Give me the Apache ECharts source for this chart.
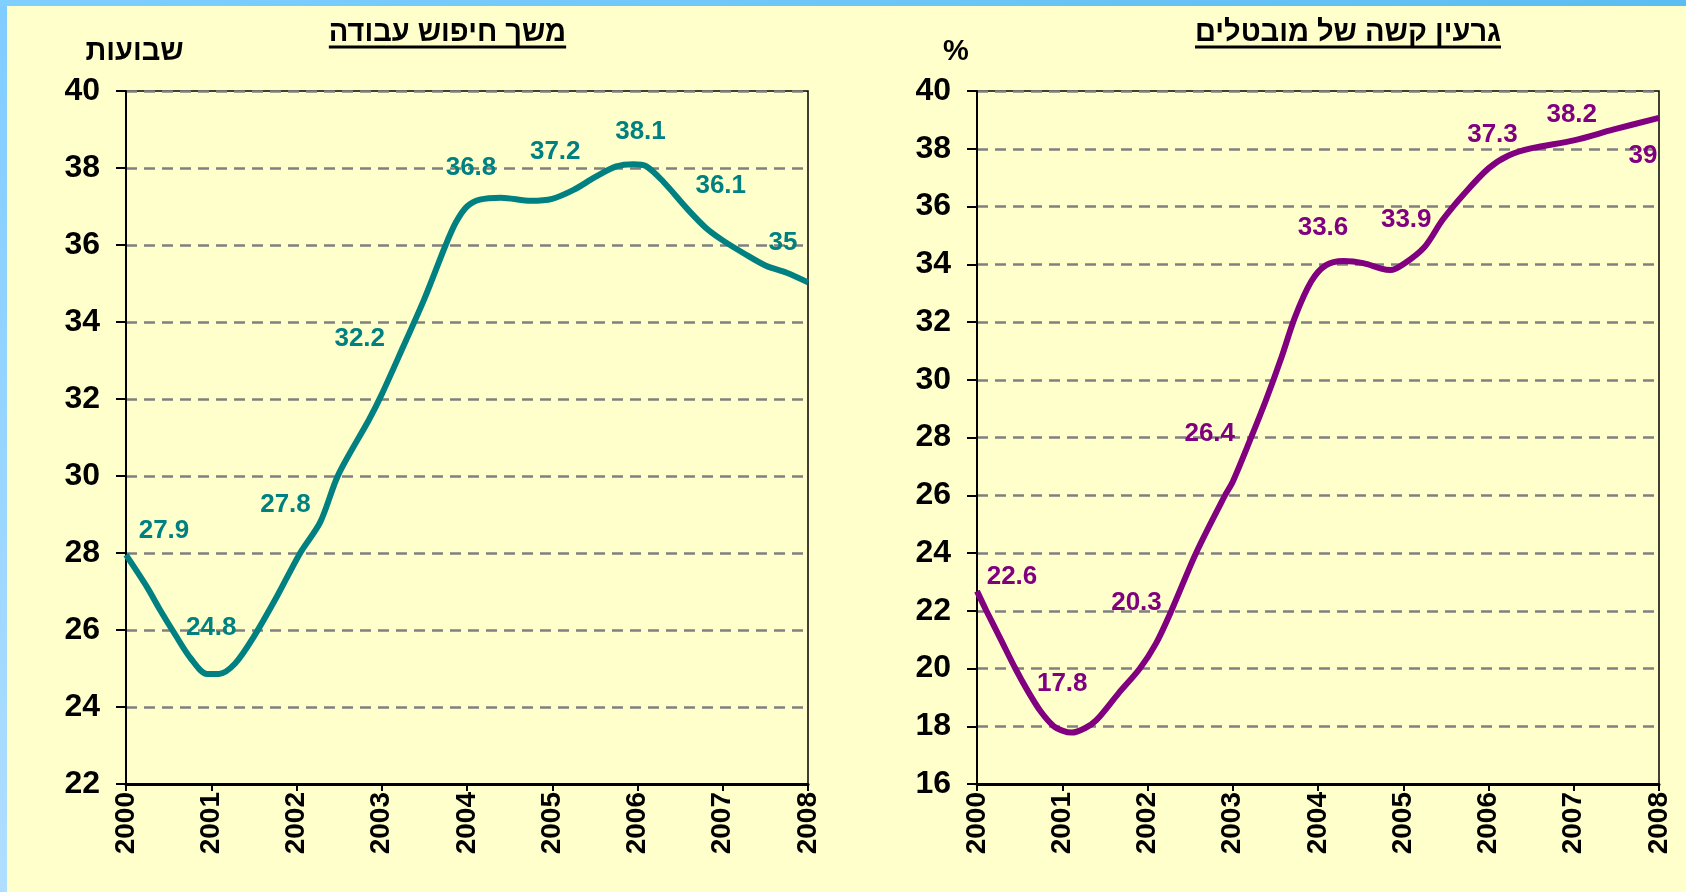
<!DOCTYPE html>
<html>
<head>
<meta charset="utf-8">
<script src="https://cdn.jsdelivr.net/npm/echarts@6/dist/echarts.min.js"></script>
<style>
html,body{margin:0;padding:0;background:#FFFFCC;}
#chart{width:1686px;height:892px;}
</style>
</head>
<body>
<div id="chart"></div>
<script>
// ---------- Data ----------
const leftTitle = 'משך חיפוש עבודה';
const leftUnit = 'שבועות';
const rightTitle = 'גרעין קשה של מובטלים';
const rightUnit = '%';

const yearTicks = [2000, 2001, 2002, 2003, 2004, 2005, 2006, 2007, 2008];

// curve (left: job search duration, weeks)
const leftCurveX = [2000.0, 2000.245, 2000.40, 2000.58, 2000.76, 2000.95, 2001.09, 2001.28, 2001.50, 2001.77,
  2002.04, 2002.28, 2002.49, 2002.85, 2003.0, 2003.25, 2003.5, 2003.75, 2003.87, 2004.0,
  2004.15, 2004.4, 2004.75, 2005.0, 2005.25, 2005.5, 2005.75, 2005.95, 2006.1, 2006.3,
  2006.6, 2006.8, 2007.0, 2007.25, 2007.5, 2007.75, 2008.0];
const leftCurveY = [27.95, 27.12, 26.52, 25.87, 25.26, 24.86, 24.86, 25.13, 25.83, 26.87,
  27.99, 28.81, 30.03, 31.46, 32.12, 33.35, 34.6, 36.0, 36.59, 37.0,
  37.18, 37.23, 37.15, 37.2, 37.43, 37.76, 38.04, 38.1, 38.05, 37.65,
  36.9, 36.45, 36.12, 35.78, 35.47, 35.28, 35.03];
const leftLabels = [27.9, 24.8, 27.8, 32.2, 36.8, 37.2, 38.1, 36.1, 35];

// curve (right: hard core of unemployed, %)
const rightCurveX = [2000.0, 2000.11, 2000.28, 2000.45, 2000.6, 2000.75, 2000.9, 2001.0, 2001.11, 2001.27,
  2001.40, 2001.66, 2001.91, 2002.1, 2002.28, 2002.57, 2002.91, 2003.0, 2003.2, 2003.39,
  2003.57, 2003.73, 2003.92, 2004.09, 2004.3, 2004.53, 2004.74, 2004.85, 2005.0, 2005.25,
  2005.46, 2005.72, 2006.0, 2006.23, 2006.51, 2007.0, 2007.46, 2008.0];
const rightCurveY = [22.68, 22.0, 21.0, 20.0, 19.2, 18.5, 18.0, 17.85, 17.78, 17.94,
  18.21, 19.14, 20.0, 20.87, 22.0, 24.0, 26.0, 26.47, 27.89, 29.3,
  30.76, 32.17, 33.4, 33.96, 34.11, 34.04, 33.85, 33.8, 34.0, 34.6,
  35.53, 36.46, 37.32, 37.76, 38.02, 38.29, 38.66, 39.07];
const rightLabels = [22.6, 17.8, 20.3, 26.4, 33.6, 33.9, 37.3, 38.2, 39];

// ---------- Styling ----------
const leftColor = '#008080';
const rightColor = '#800080';
const leftLabelOffsets = [[38,-26],[0,-48],[-11,-56],[-22,-52],[4,-46],[3,-47],[3,-32],[-2,-55],[-25,-41]];
const rightLabelOffsets = [[35,-17],[0,-48],[-11,-57],[-23,-50],[5,-48],[3,-47],[4,-34],[-2,-28],[-16,36]];

const FONT = '"Liberation Sans", Arial, sans-serif';

function measure(text, font) {
  const c = document.createElement('canvas').getContext('2d');
  c.font = font;
  return c.measureText(text).width;
}

function xAxisCfg(gi) {
  return {
    type: 'value', gridIndex: gi, min: 2000, max: 2008, interval: 1,
    axisLine: {show: true, onZero: false, lineStyle: {color: '#000', width: 3}},
    axisTick: {show: true, length: 7, lineStyle: {color: '#000', width: 2}},
    axisLabel: {rotate: 90, margin: 8, fontSize: 28, fontWeight: 'bold', color: '#000',
      fontFamily: FONT, formatter: v => String(v)},
    splitLine: {show: false}
  };
}
function yAxisCfg(gi, min) {
  return {
    type: 'value', gridIndex: gi, min: min, max: 40, interval: 2,
    axisLine: {show: true, lineStyle: {color: '#000', width: 2}},
    axisTick: {show: true, length: 10, lineStyle: {color: '#000', width: 2}},
    axisLabel: {margin: 26, fontSize: 32, fontWeight: 'bold', color: '#000', fontFamily: FONT},
    splitLine: {show: true, lineStyle: {color: '#808080', width: 2.5, type: [11, 7]}}
  };
}
function curveSeries(gi, xs, ys, color) {
  return {
    type: 'line', xAxisIndex: gi, yAxisIndex: gi, smooth: 0.3, symbol: 'none',
    lineStyle: {color: color, width: 6}, z: 3,
    data: xs.map((x, i) => [x, ys[i]])
  };
}
function labelSeries(gi, labels, offsets, color) {
  return {
    type: 'scatter', xAxisIndex: gi, yAxisIndex: gi, symbolSize: 1,
    itemStyle: {color: 'rgba(0,0,0,0)'}, z: 4, silent: true,
    data: yearTicks.map((y, i) => ({
      value: [y, labels[i]],
      label: {offset: offsets[i]}
    })),
    label: {show: true, position: 'inside', color: color, fontSize: 26, fontWeight: 'bold',
      fontFamily: FONT, textBorderWidth: 0, textBorderColor: 'transparent', opacity: 1,
      formatter: p => String(p.value[1])}
  };
}

const titleFont = 'bold 29px ' + FONT;
const lw = measure(leftTitle, titleFont);
const rw = measure(rightTitle, titleFont);

const chart = echarts.init(document.getElementById('chart'), null, {renderer: 'canvas'});
chart.setOption({
  backgroundColor: '#FFFFCC',
  animation: false,
  grid: [
    {left: 126, top: 91, width: 682, height: 693, show: true, borderColor: '#000', borderWidth: 1.5, backgroundColor: 'transparent'},
    {left: 977, top: 91, width: 682, height: 693, show: true, borderColor: '#000', borderWidth: 1.5, backgroundColor: 'transparent'}
  ],
  xAxis: [xAxisCfg(0), xAxisCfg(1)],
  yAxis: [yAxisCfg(0, 22), yAxisCfg(1, 16)],
  series: [
    curveSeries(0, leftCurveX, leftCurveY, leftColor),
    labelSeries(0, leftLabels, leftLabelOffsets, leftColor),
    curveSeries(1, rightCurveX, rightCurveY, rightColor),
    labelSeries(1, rightLabels, rightLabelOffsets, rightColor)
  ],
  graphic: [
    {type: 'rect', left: 0, top: 0, shape: {width: 7, height: 892}, z: 10,
      style: {fill: new echarts.graphic.LinearGradient(0, 0, 0, 1, [{offset: 0, color: '#7FCCFF'}, {offset: 1, color: '#B0DEFF'}])}},
    {type: 'rect', left: 0, top: 0, shape: {width: 1686, height: 6}, z: 10,
      style: {fill: new echarts.graphic.LinearGradient(0, 0, 1, 0, [{offset: 0, color: '#7FCFFF'}, {offset: 1, color: '#5CBDF0'}])}},
    {type: 'text', x: 447.5, y: 33, z: 10,
      style: {text: leftTitle, font: titleFont, fill: '#000', align: 'center', verticalAlign: 'middle'}},
    {type: 'rect', x: 447.5 - lw / 2, y: 45.5, z: 10, shape: {width: lw, height: 3}, style: {fill: '#000'}},
    {type: 'text', x: 1348, y: 33, z: 10,
      style: {text: rightTitle, font: titleFont, fill: '#000', align: 'center', verticalAlign: 'middle'}},
    {type: 'rect', x: 1348 - rw / 2, y: 45.5, z: 10, shape: {width: rw, height: 3}, style: {fill: '#000'}},
    {type: 'text', x: 134.5, y: 52, z: 10,
      style: {text: leftUnit, font: 'bold 29px ' + FONT, fill: '#000', align: 'center', verticalAlign: 'middle'}},
    {type: 'text', x: 956, y: 52, z: 10,
      style: {text: rightUnit, font: 'bold 29px ' + FONT, fill: '#000', align: 'center', verticalAlign: 'middle'}}
  ]
});
</script>
</body>
</html>
